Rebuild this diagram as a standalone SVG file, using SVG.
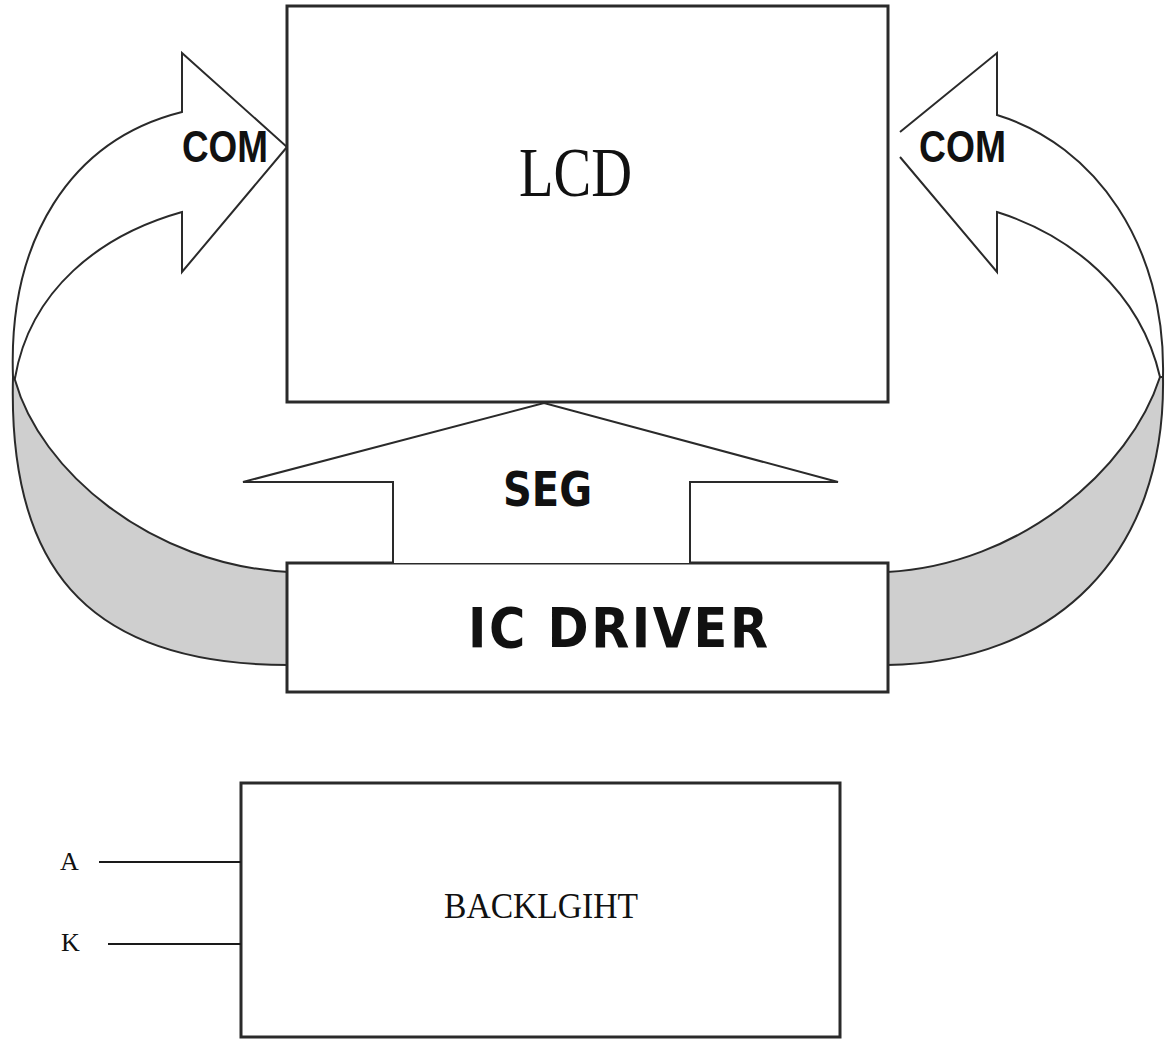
<svg xmlns="http://www.w3.org/2000/svg" width="1169" height="1040" viewBox="0 0 1169 1040">
<style>
.box{fill:#fff;stroke:#2a2a2a;stroke-width:3}
.band{fill:#fff;stroke:#2a2a2a;stroke-width:2;stroke-linejoin:miter}
.gray{fill:#cfcfcf;stroke:#2a2a2a;stroke-width:2}
.ln{fill:none;stroke:#1a1a1a;stroke-width:2}
.sans{font-family:"Liberation Sans",Arial,sans-serif;font-weight:bold;fill:#111}
.cond{font-family:"DejaVu Sans Condensed","Liberation Sans Narrow","Liberation Sans",sans-serif;font-weight:bold;fill:#111}
.serif{font-family:"Liberation Serif","Times New Roman",serif;fill:#111}
</style>
<rect width="1169" height="1040" fill="#fff"/>
<g id="connectors">
  <g id="com-left">
    <path class="gray" d="M 13 377 C 8 560, 80 665, 289 665 L 289 572 C 150 565, 40 470, 15 380 Z"/>
    <path class="band" d="M 13 377 C 8 240, 70 140, 182 112 L 182 53 L 287 147 L 182 272 L 182 212 C 100 235, 30 290, 15 378 Z"/>
    <text class="sans" x="182" y="162" font-size="45" textLength="86" lengthAdjust="spacingAndGlyphs">COM</text>
  </g>
  <g id="com-right">
    <path class="gray" d="M 1163 377 C 1166 555, 1055 663, 887 665 L 887 572 C 1020 565, 1130 470, 1160 377 Z"/>
    <path d="M 1163 377 C 1166 245, 1095 145, 997 115 L 997 53 L 900 132 L 900 157 L 997 272 L 997 212 C 1070 235, 1140 290, 1160 377 Z" fill="#fff" stroke="none"/>
    <path class="band" fill="none" d="M 900 157 L 997 272 L 997 212 C 1070 235, 1140 290, 1160 377 L 1163 377 C 1166 245, 1095 145, 997 115 L 997 53 L 900 132"/>
    <text class="sans" x="919" y="162" font-size="45" textLength="87" lengthAdjust="spacingAndGlyphs">COM</text>
  </g>
</g>
<g id="lcd">
  <rect class="box" x="287" y="6" width="601" height="396"/>
  <text class="serif" x="519" y="196" font-size="70" textLength="113" lengthAdjust="spacingAndGlyphs">LCD</text>
</g>
<g id="ic-driver">
  <rect class="box" x="287" y="563" width="601" height="129"/>
  <text class="cond" x="468" y="647" font-size="55" textLength="300" lengthAdjust="spacing">IC DRIVER</text>
</g>
<g id="connectors-seg">
  <path class="band" d="M 393 563 L 393 482 L 243 482 L 544 403 L 838 482 L 690 482 L 690 563"/>
  <text class="cond" x="503" y="506" font-size="48" textLength="89" lengthAdjust="spacingAndGlyphs">SEG</text>
</g>
<g id="backlight">
  <rect class="box" x="241" y="783" width="599" height="254"/>
  <text class="serif" x="444" y="918" font-size="36" textLength="194" lengthAdjust="spacingAndGlyphs">BACKLGIHT</text>
</g>
<g id="pins">
  <line class="ln" x1="99" y1="862" x2="241" y2="862"/>
  <line class="ln" x1="108" y1="944" x2="241" y2="944"/>
  <text class="serif" x="60" y="870" font-size="26">A</text>
  <text class="serif" x="61" y="951" font-size="26">K</text>
</g>
</svg>
